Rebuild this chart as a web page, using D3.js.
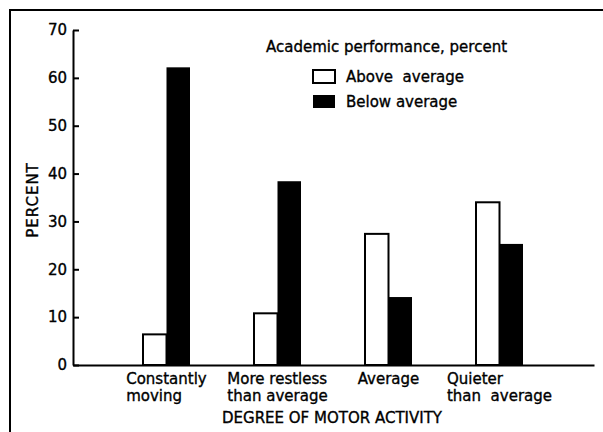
<!DOCTYPE html>
<html>
<head>
<meta charset="utf-8">
<script src="https://cdn.jsdelivr.net/npm/d3@7"></script>
<style>
  body { margin: 0; background: #fff; }
  svg { display: block; }
  text { font-family: "DejaVu Sans", sans-serif; fill: #000; stroke: #000; stroke-width: 0.35px; white-space: pre; }
</style>
</head>
<body>
<div id="chart"></div>
<script>
// data
const categories = ["Constantly moving", "More restless than average", "Average", "Quieter than average"];
const categoryLines = [["Constantly", "moving"], ["More restless", "than average"], ["Average"], ["Quieter", "than  average"]];
const aboveAverage = [6.4, 10.8, 27.4, 34];
const belowAverage = [62.2, 38.4, 14.2, 25.3];
const series = ["Above  average", "Below average"];
const yTicks = [0, 10, 20, 30, 40, 50, 60, 70];

const width = 603, height = 432;
const fs = 15;

const svg = d3.select("#chart")
  .append("svg")
  .attr("width", width)
  .attr("height", height);

// frame (left and top edges only)
svg.append("path")
  .attr("d", "M10," + height + "V10H" + width)
  .attr("fill", "none")
  .attr("stroke", "#000")
  .attr("stroke-width", 2);

// scales
const y = d3.scaleLinear().domain([0, 70]).range([365, 30]);
const x0 = d3.scaleBand().domain(categories).range([111, 555]).padding(0);
const barW = 23.5;
const x1 = d3.scaleBand().domain(series).range([0, barW * 2]);

// y axis, ticks pointing inward
svg.append("g")
  .attr("transform", "translate(73,0)")
  .call(d3.axisLeft(y).tickValues(yTicks).tickSizeInner(-6).tickSizeOuter(0).tickPadding(6))
  .call(g => g.selectAll("line, path").attr("stroke", "#000").attr("stroke-width", 2))
  .call(g => g.selectAll("text").attr("font-size", fs).attr("font-family", "DejaVu Sans").attr("fill", "#000"));

// x axis baseline
const xLine = d3.scaleLinear().domain([0, 1]).range([73, 594]);
svg.append("g")
  .attr("transform", "translate(0," + y(0) + ")")
  .call(d3.axisBottom(xLine).tickValues([]).tickSizeOuter(0))
  .call(g => g.select("path").attr("stroke", "#000").attr("stroke-width", 2));

// bars
const groups = svg.append("g").selectAll("g")
  .data(categories)
  .enter()
  .append("g")
  .attr("transform", d => "translate(" + (x0(d) + x0.bandwidth() / 2 - barW) + ",0)");

groups.append("rect")
  .attr("x", x1(series[0]))
  .attr("y", (d, i) => y(aboveAverage[i]))
  .attr("width", x1.bandwidth())
  .attr("height", (d, i) => y(0) - y(aboveAverage[i]))
  .attr("fill", "#fff")
  .attr("stroke", "#000")
  .attr("stroke-width", 2);

groups.append("rect")
  .attr("x", x1(series[1]))
  .attr("y", (d, i) => y(belowAverage[i]))
  .attr("width", x1.bandwidth())
  .attr("height", (d, i) => y(0) - y(belowAverage[i]))
  .attr("fill", "#000");

// category labels: block centred on group, lines left aligned
categories.forEach((c, i) => {
  const cx = x0(c) + x0.bandwidth() / 2;
  const t = svg.append("text")
    .attr("font-size", fs)
    .attr("y", 384);
  categoryLines[i].forEach((line, j) => {
    t.append("tspan")
      .attr("x", 0)
      .attr("dy", j === 0 ? 0 : 17)
      .text(line);
  });
  const w = t.node().getBBox().width;
  t.attr("transform", "translate(" + (cx - w / 2) + ",0)");
});

// axis titles
svg.append("text")
  .attr("x", 332)
  .attr("y", 423)
  .attr("text-anchor", "middle")
  .attr("font-size", fs)
  .text("DEGREE OF MOTOR ACTIVITY");

svg.append("text")
  .attr("transform", "translate(38,200) rotate(-90)")
  .attr("text-anchor", "middle")
  .attr("font-size", fs)
  .attr("letter-spacing", 1)
  .text("PERCENT");

// legend
svg.append("text")
  .attr("x", 266)
  .attr("y", 52)
  .attr("font-size", fs)
  .text("Academic performance, percent");

const legend = svg.append("g").selectAll("g")
  .data(series)
  .enter()
  .append("g")
  .attr("transform", (d, i) => "translate(313," + (70 + i * 25) + ")");

legend.append("rect")
  .attr("width", 22)
  .attr("height", 13)
  .attr("fill", (d, i) => i === 0 ? "#fff" : "#000")
  .attr("stroke", "#000")
  .attr("stroke-width", (d, i) => i === 0 ? 2 : 0);

legend.append("text")
  .attr("x", 33)
  .attr("y", 12)
  .attr("font-size", fs)
  .text(d => d);
</script>
</body>
</html>
